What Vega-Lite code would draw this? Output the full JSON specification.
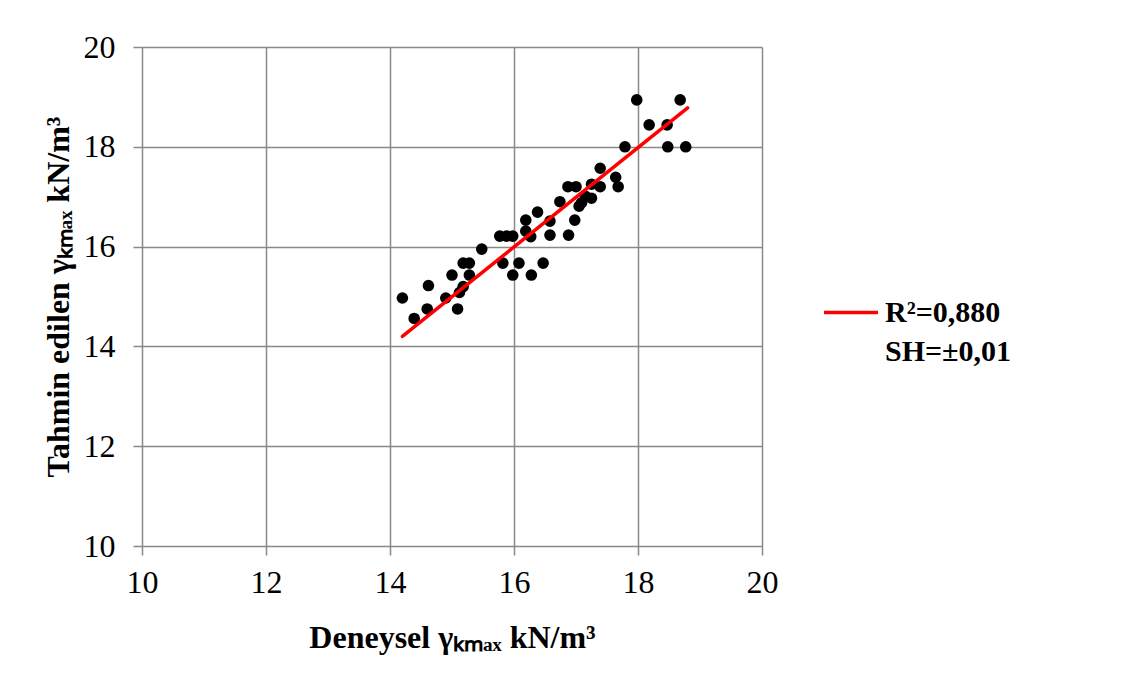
{
  "$schema": "https://vega.github.io/schema/vega-lite/v6.json",
  "width": 620,
  "height": 499,
  "autosize": {"type": "none"},
  "padding": {"left": 142, "top": 47, "right": 372, "bottom": 131},
  "background": "white",
  "config": {
    "view": {"stroke": null},
    "font": "Liberation Serif",
    "axis": {
      "domain": false,
      "grid": true,
      "gridColor": "#898989",
      "gridWidth": 1.5,
      "tickColor": "#898989",
      "tickWidth": 1.5,
      "tickSize": 9,
      "labelFlush": false,
      "labelFont": "Liberation Serif",
      "labelFontSize": 32,
      "labelColor": "black",
      "titleFont": "Liberation Serif",
      "titleFontSize": 32,
      "titleFontWeight": "bold",
      "titleColor": "black"
    },
    "legend": {
      "labelFont": "Liberation Serif",
      "labelFontSize": 30,
      "labelFontWeight": "bold",
      "labelColor": "black"
    }
  },
  "datasets": {
    "points": [
      {"x": 14.2, "y": 14.97}, {"x": 14.39, "y": 14.56}, {"x": 14.62, "y": 15.22},
      {"x": 14.6, "y": 14.75}, {"x": 14.9, "y": 14.97}, {"x": 15.0, "y": 15.43},
      {"x": 15.09, "y": 14.75}, {"x": 15.12, "y": 15.08}, {"x": 15.18, "y": 15.2},
      {"x": 15.18, "y": 15.67}, {"x": 15.28, "y": 15.67}, {"x": 15.28, "y": 15.43},
      {"x": 15.48, "y": 15.95}, {"x": 15.77, "y": 16.21}, {"x": 15.88, "y": 16.21},
      {"x": 15.98, "y": 16.21}, {"x": 15.82, "y": 15.67}, {"x": 15.98, "y": 15.43},
      {"x": 16.08, "y": 15.67}, {"x": 16.19, "y": 16.53}, {"x": 16.19, "y": 16.31},
      {"x": 16.27, "y": 16.2}, {"x": 16.28, "y": 15.43}, {"x": 16.38, "y": 16.69},
      {"x": 16.47, "y": 15.67}, {"x": 16.58, "y": 16.51}, {"x": 16.58, "y": 16.23},
      {"x": 16.74, "y": 16.9}, {"x": 16.87, "y": 17.2}, {"x": 16.88, "y": 16.23},
      {"x": 16.98, "y": 16.53}, {"x": 17.0, "y": 17.2}, {"x": 17.05, "y": 16.81},
      {"x": 17.09, "y": 16.88}, {"x": 17.15, "y": 17.01}, {"x": 17.25, "y": 16.97},
      {"x": 17.25, "y": 17.25}, {"x": 17.39, "y": 17.57}, {"x": 17.39, "y": 17.2},
      {"x": 17.64, "y": 17.39}, {"x": 17.68, "y": 17.2}, {"x": 17.79, "y": 18.0},
      {"x": 17.98, "y": 18.94}, {"x": 18.18, "y": 18.44}, {"x": 18.47, "y": 18.44},
      {"x": 18.48, "y": 18.0}, {"x": 18.68, "y": 18.94}, {"x": 18.77, "y": 18.0}
    ],
    "fit": [
      {"x": 14.2, "y": 14.2, "series": "R²=0,880"},
      {"x": 18.8, "y": 18.78, "series": "R²=0,880"}
    ]
  },
  "layer": [
    {
      "data": {"name": "points"},
      "mark": {"type": "point", "filled": true, "color": "black", "opacity": 1, "size": 135},
      "encoding": {
        "x": {
          "field": "x", "type": "quantitative",
          "scale": {"domain": [10, 20], "nice": false, "zero": false},
          "axis": {"values": [10, 12, 14, 16, 18, 20], "format": "d", "title": "Deneysel γₖₘₐₓ kN/m³", "titlePadding": 24, "labelPadding": 12}
        },
        "y": {
          "field": "y", "type": "quantitative",
          "scale": {"domain": [10, 20], "nice": false, "zero": false},
          "axis": {"values": [10, 12, 14, 16, 18, 20], "format": "d", "title": "Tahmin edilen γₖₘₐₓ kN/m³", "titlePadding": 8, "labelPadding": 18}
        }
      }
    },
    {
      "data": {"name": "fit"},
      "mark": {"type": "line", "strokeWidth": 3.5, "strokeCap": "round"},
      "encoding": {
        "x": {"field": "x", "type": "quantitative"},
        "y": {"field": "y", "type": "quantitative"},
        "color": {
          "field": "series", "type": "nominal",
          "scale": {"domain": ["R²=0,880", "SH=±0,01"], "range": ["#FF0000", "transparent"]},
          "legend": {
            "title": null,
            "orient": "none",
            "legendX": 680,
            "legendY": 250,
            "symbolType": "M-1,0H3",
            "symbolSize": 729,
            "symbolStrokeWidth": 3.5,
            "labelOffset": 32,
            "rowPadding": 8
          }
        }
      }
    }
  ]
}
